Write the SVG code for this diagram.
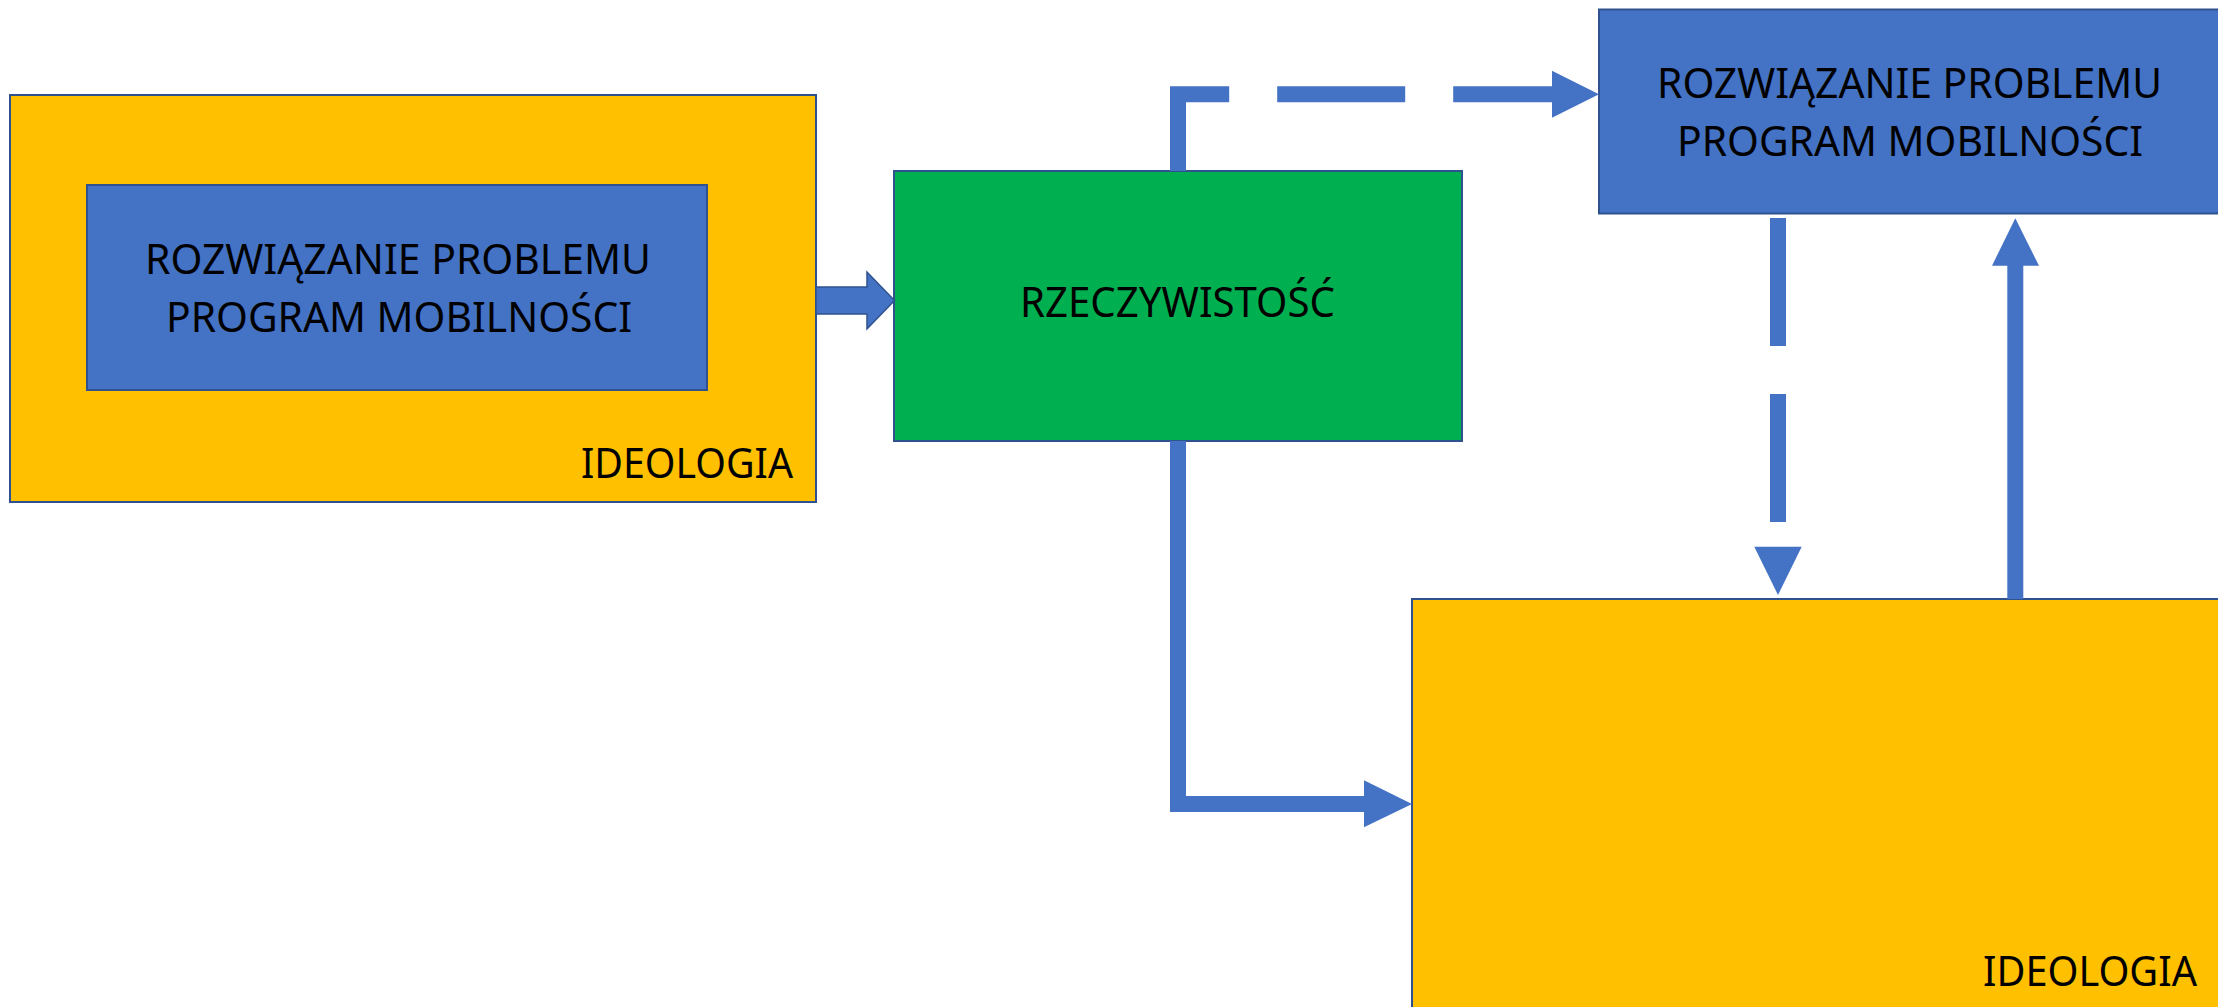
<svg xmlns="http://www.w3.org/2000/svg" width="2218" height="1007" viewBox="0 0 2218 1007">
  <style>
    .box { stroke: #2F528F; stroke-width: 2; }
    .yellow { fill: #FFC000; }
    .blue { fill: #4472C4; }
    .green { fill: #00B050; }
    .label { font-family: "Noto Sans", "Open Sans", "Liberation Sans", sans-serif; font-size: 42px; fill: #000000; }
    .wire { fill: none; stroke: #4472C4; stroke-width: 16; stroke-linejoin: miter; }
    .dashed { stroke-dasharray: 128 48; }
    .head { fill: #4472C4; }
  </style>

  <!-- ideology frame containing the mobility programme -->
  <g id="ideologia-1">
    <rect class="box yellow" x="10" y="95" width="806" height="407"/>
    <text class="label" x="581" y="478" textLength="212" lengthAdjust="spacingAndGlyphs">IDEOLOGIA</text>
  </g>
  <g id="program-1">
    <rect class="box blue" x="87" y="185" width="620" height="205"/>
    <text class="label" x="145" y="274" textLength="506" lengthAdjust="spacingAndGlyphs">ROZWIĄZANIE PROBLEMU</text>
    <text class="label" x="166" y="332" textLength="466" lengthAdjust="spacingAndGlyphs">PROGRAM MOBILNOŚCI</text>
  </g>

  <!-- reality -->
  <g id="rzeczywistosc">
    <rect class="box green" x="894" y="171" width="568" height="270"/>
    <text class="label" x="1020" y="317" textLength="315" lengthAdjust="spacingAndGlyphs">RZECZYWISTOŚĆ</text>
  </g>

  <!-- programme on the right, running past the edge -->
  <g id="program-2">
    <rect class="box blue" x="1599" y="9.5" width="630" height="204"/>
    <text class="label" x="1657" y="98" textLength="505" lengthAdjust="spacingAndGlyphs">ROZWIĄZANIE PROBLEMU</text>
    <text class="label" x="1677" y="156" textLength="466" lengthAdjust="spacingAndGlyphs">PROGRAM MOBILNOŚCI</text>
  </g>

  <!-- second ideology frame, running past the edges -->
  <g id="ideologia-2">
    <rect class="box yellow" x="1412" y="599" width="820" height="420"/>
    <text class="label" x="1983" y="986" textLength="214" lengthAdjust="spacingAndGlyphs">IDEOLOGIA</text>
  </g>

  <g id="connectors">
    <!-- block arrow: ideology -> reality -->
    <polygon fill="#4472C4" stroke="#2F528F" stroke-width="1.5" stroke-linejoin="miter"
             points="816,287 867,287 867,272 894.5,300.5 867,329 867,314 816,314"/>

    <!-- dashed: reality -> programme -->
    <path class="wire dashed" d="M1178,171 L1178,94.2 L1552,94.2"/>
    <polygon class="head" points="1552,70.7 1599,94.2 1552,117.7"/>

    <!-- dashed: programme -> ideology -->
    <path class="wire dashed" d="M1778,218 L1778,546.7"/>
    <polygon class="head" points="1754.3,546.7 1801.7,546.7 1778,595"/>

    <!-- solid: ideology -> programme -->
    <path class="wire" d="M2015.3,599 L2015.3,265"/>
    <polygon class="head" points="1992,265.7 2015.3,218.3 2039,265.7"/>

    <!-- solid elbow: reality -> ideology -->
    <path class="wire" d="M1178,441 L1178,804 L1365,804"/>
    <polygon class="head" points="1364,780.3 1412,804 1364,827.3"/>
  </g>
</svg>
